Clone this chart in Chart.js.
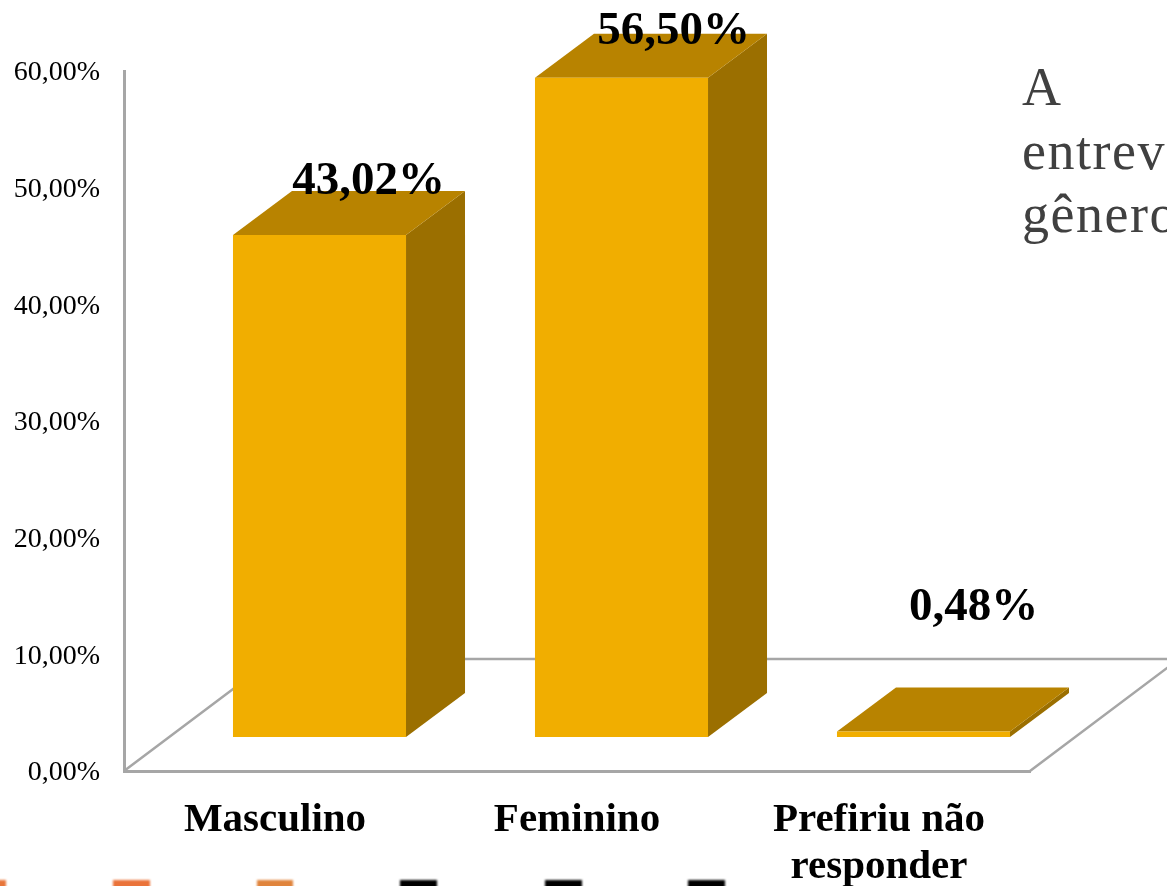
<!DOCTYPE html>
<html lang="pt">
<head>
<meta charset="utf-8">
<style>
html,body{margin:0;padding:0;background:#fff;overflow:hidden;width:1167px;height:886px}
canvas{position:absolute;left:0;top:0}
#side{position:absolute;left:1022px;top:56px;width:145px;overflow:hidden;white-space:nowrap;font:54px/63.5px "Liberation Serif",serif;color:#404040;letter-spacing:1.5px}
.scrap{position:absolute;top:880px;height:12px;filter:blur(1px)}
</style>
</head>
<body>
<canvas id="c" width="1167" height="886"></canvas>
<div id="side">A<br>entrev<br>gênero</div>
<div class="scrap" style="left:-6px;width:12px;background:#e8763a"></div>
<div class="scrap" style="left:113px;width:37px;background:#ea733a"></div>
<div class="scrap" style="left:257px;width:36px;background:#e0843c"></div>
<div class="scrap" style="left:400px;width:37px;background:#000"></div>
<div class="scrap" style="left:545px;width:37px;background:#000"></div>
<div class="scrap" style="left:688px;width:37px;background:#000"></div>
<script src="https://cdn.jsdelivr.net/npm/chart.js@4"></script>
<script>
const categories = ['Masculino', 'Feminino', ['Prefiriu não', 'responder']];
const values = [43.02, 56.5, 0.48];
const valueLabels = ['43,02%', '56,50%', '0,48%'];
const labelShift = [[49, -41], [52, -34], [50, -111]];
const tickStep = 10;
const tickMax = 60;

const FRONT = '#f1ae00', TOP = '#b88300', SIDE = '#9b6f00', LINE = '#a6a6a6';
const SHIFT_X = 44.5, SHIFT_Y = -34, DX = 59, DY = -44;

const poly = (ctx, pts, fill) => {
  ctx.beginPath();
  pts.forEach((p, i) => i ? ctx.lineTo(p[0], p[1]) : ctx.moveTo(p[0], p[1]));
  ctx.closePath();
  ctx.fillStyle = fill;
  ctx.fill();
};

const bars3d = {
  id: 'bars3d',
  beforeDatasetsDraw(chart) {
    const { ctx, chartArea: a } = chart;
    ctx.save();
    ctx.strokeStyle = LINE;
    ctx.lineWidth = 2.5;
    ctx.beginPath();
    ctx.moveTo(a.left, a.bottom);
    ctx.lineTo(a.left + 149, a.bottom - 112);
    ctx.lineTo(a.right + 149, a.bottom - 112);
    ctx.lineTo(a.right, a.bottom);
    ctx.stroke();
    ctx.restore();
    ctx.save();
    ctx.translate(SHIFT_X, SHIFT_Y);
    chart.getDatasetMeta(0).data.forEach(b => {
      const p = b.getProps(['x', 'y', 'base', 'width'], true);
      const l = p.x - p.width / 2, r = p.x + p.width / 2;
      poly(ctx, [[r, p.y], [r + DX, p.y + DY], [r + DX, p.base + DY], [r, p.base]], SIDE);
      poly(ctx, [[l, p.y], [l + DX, p.y + DY], [r + DX, p.y + DY], [r, p.y]], TOP);
    });
    ctx.restore();
    ctx.save();
    ctx.translate(SHIFT_X, SHIFT_Y);
  },
  afterDatasetsDraw(chart) {
    const { ctx } = chart;
    ctx.restore();
    ctx.save();
    ctx.font = 'bold 47px "Liberation Serif", serif';
    ctx.fillStyle = '#000';
    ctx.textAlign = 'center';
    ctx.textBaseline = 'alphabetic';
    chart.getDatasetMeta(0).data.forEach((b, i) => {
      const p = b.getProps(['x', 'y'], true);
      ctx.fillText(valueLabels[i], p.x + SHIFT_X + labelShift[i][0], p.y + SHIFT_Y + labelShift[i][1]);
    });
    ctx.restore();
  }
};

new Chart(document.getElementById('c'), {
  type: 'bar',
  data: {
    labels: categories,
    datasets: [{ data: values, backgroundColor: FRONT, borderWidth: 0, barPercentage: 0.573, categoryPercentage: 1 }]
  },
  plugins: [bars3d],
  options: {
    responsive: false,
    animation: false,
    layout: { padding: { top: 71, right: 137, left: 0, bottom: 0 } },
    plugins: { legend: { display: false }, tooltip: { enabled: false } },
    scales: {
      x: {
        grid: { display: false, drawTicks: false },
        border: { color: LINE, width: 3 },
        afterFit(s) { s.height = 115; },
        ticks: { color: '#000', padding: 26, maxRotation: 0, minRotation: 0, autoSkip: false, font: { family: '"Liberation Serif", serif', weight: 'bold', size: 41, lineHeight: 1.15 } }
      },
      y: {
        min: 0,
        max: tickMax,
        afterFit(s) { s.width = 124; },
        grid: { display: false, drawTicks: false },
        border: { color: LINE, width: 3 },
        ticks: {
          stepSize: tickStep,
          color: '#000',
          padding: 24,
          labelOffset: 2,
          callback: v => v.toFixed(2).replace('.', ',') + '%',
          font: { family: '"Liberation Serif", serif', size: 28 }
        }
      }
    }
  }
});
</script>
</body>
</html>
